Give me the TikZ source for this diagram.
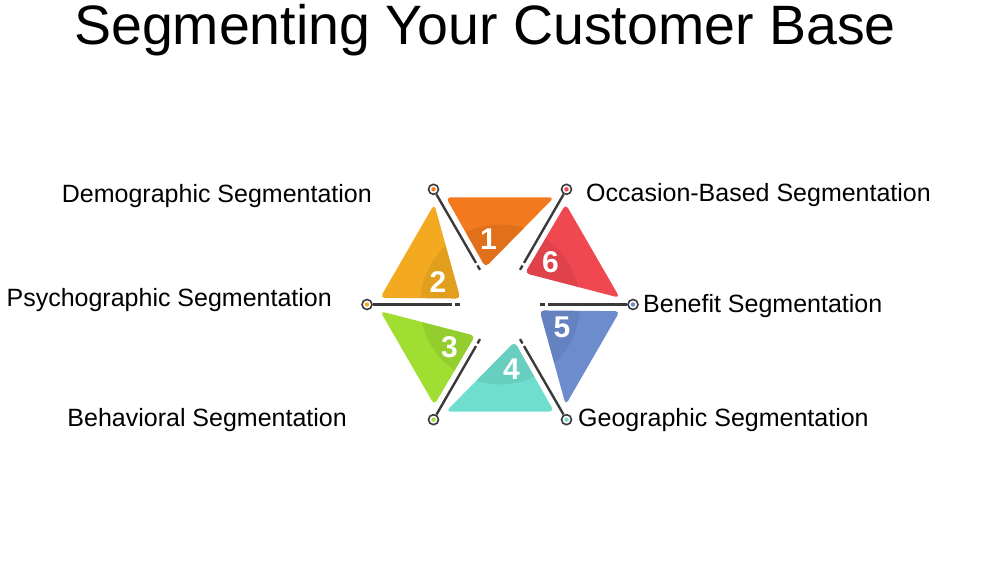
\documentclass[tikz,border=0pt]{standalone}
\usepackage{fontspec}
\setmainfont{Liberation Sans}
\usepackage{tikz}
\usetikzlibrary{positioning,calc}
\definecolor{segOrange}{RGB}{243,121,30}
\definecolor{segAmber}{RGB}{244,170,32}
\definecolor{segLime}{RGB}{160,222,50}
\definecolor{segTeal}{RGB}{112,222,206}
\definecolor{segBlue}{RGB}{108,140,206}
\definecolor{segRed}{RGB}{240,72,80}
\definecolor{spokeGray}{RGB}{58,58,58}

\begin{document}
\begin{tikzpicture}[
        x=1pt, y=1pt,
        seg/.style={rounded corners=4.5pt},
        inner/.style={path picture={\fill[black, opacity=0.07] (c) circle (80);}},
        spoke/.style={draw=spokeGray, line width=2.4pt},
        pin/.style={circle, draw=spokeGray, line width=1.6pt, fill=white, minimum size=10pt, inner sep=0pt},
        num/.style={text=white, font=\fontsize{30}{30}\selectfont\bfseries},
        lbl/.style={font=\fontsize{25}{28}\selectfont, inner sep=0pt}
      ]
        \useasboundingbox (0,0) rectangle (1000,562);
        % Title
        \node[font=\fontsize{55.5}{60}\selectfont, anchor=base, inner sep=0pt] (title) at (485,517) {Segmenting Your Customer Base};
        \coordinate (c) at (500,257.5);
        \begin{scope}[shift={(500,257.5)}]
        % Six triangles (sector 0..60 is number 6)
        \fill[seg, inner, segRed] (3.2:120) -- (56.8:120) -- (51.5:40) -- cycle;
        \fill[seg, inner, segOrange] (63.2:120) -- (116.8:120) -- (111.5:40) -- cycle;
        \fill[seg, inner, segAmber] (123.2:120) -- (176.8:120) -- (171.5:40) -- cycle;
        \fill[seg, inner, segLime] (183.2:120) -- (236.8:120) -- (231.5:40) -- cycle;
        \fill[seg, inner, segTeal] (243.2:120) -- (296.8:120) -- (291.5:40) -- cycle;
        \fill[seg, inner, segBlue] (303.2:120) -- (356.8:120) -- (351.5:40) -- cycle;
        % Numbers
        \node[num] (n1) at (100:66) {1};
        \node[num] (n2) at (160:66) {2};
        \node[num] (n3) at (220:66) {3};
        \node[num] (n4) at (280:66) {4};
        \node[num] (n5) at (340:66) {5};
        \node[num] (n6) at (40:66) {6};
        % Pins
        \node[pin] (p1) at (120:133) {};
        \node[pin] (p2) at (180:133) {};
        \node[pin] (p3) at (240:133) {};
        \node[pin] (p4) at (300:133) {};
        \node[pin] (p5) at (0:133) {};
        \node[pin] (p6) at (60:133) {};
        \fill[segOrange] (p1) circle (2.2); \fill[segAmber] (p2) circle (2.2);
        \fill[segLime] (p3) circle (2.2); \fill[segTeal] (p4) circle (2.2);
        \fill[segBlue] (p5) circle (2.2); \fill[segRed] (p6) circle (2.2);
        % Spoke ends near the centre
        \coordinate (e1) at (120:48); \coordinate (a1) at (120:45); \coordinate (b1) at (120:40);
        \coordinate (e2) at (180:48); \coordinate (a2) at (180:45); \coordinate (b2) at (180:40);
        \coordinate (e3) at (240:48); \coordinate (a3) at (240:45); \coordinate (b3) at (240:40);
        \coordinate (e4) at (300:48); \coordinate (a4) at (300:45); \coordinate (b4) at (300:40);
        \coordinate (e5) at (0:48); \coordinate (a5) at (0:45); \coordinate (b5) at (0:40);
        \coordinate (e6) at (60:48); \coordinate (a6) at (60:45); \coordinate (b6) at (60:40);
        % Spokes
        \draw[spoke] (p1) -- (e1); \draw[spoke] (a1) -- (b1);
        \draw[spoke] (p2) -- (e2); \draw[spoke] (a2) -- (b2);
        \draw[spoke] (p3) -- (e3); \draw[spoke] (a3) -- (b3);
        \draw[spoke] (p4) -- (e4); \draw[spoke] (a4) -- (b4);
        \draw[spoke] (p5) -- (e5); \draw[spoke] (a5) -- (b5);
        \draw[spoke] (p6) -- (e6); \draw[spoke] (a6) -- (b6);
        \end{scope}
        % Labels
        \node[lbl, anchor=base east] (l1) at (372,359.7) {Demographic Segmentation};
        \node[lbl, anchor=base east] (l2) at (332,255.3) {Psychographic Segmentation};
        \node[lbl, anchor=base east] (l3) at (347,135) {Behavioral Segmentation};
        \node[lbl, anchor=base west] (l4) at (578,135.3) {Geographic Segmentation};
        \node[lbl, anchor=base west] (l5) at (643,249) {Benefit Segmentation};
        \node[lbl, anchor=base west] (l6) at (586,360.3) {Occasion-Based Segmentation};
      \end{tikzpicture}
\end{document}
